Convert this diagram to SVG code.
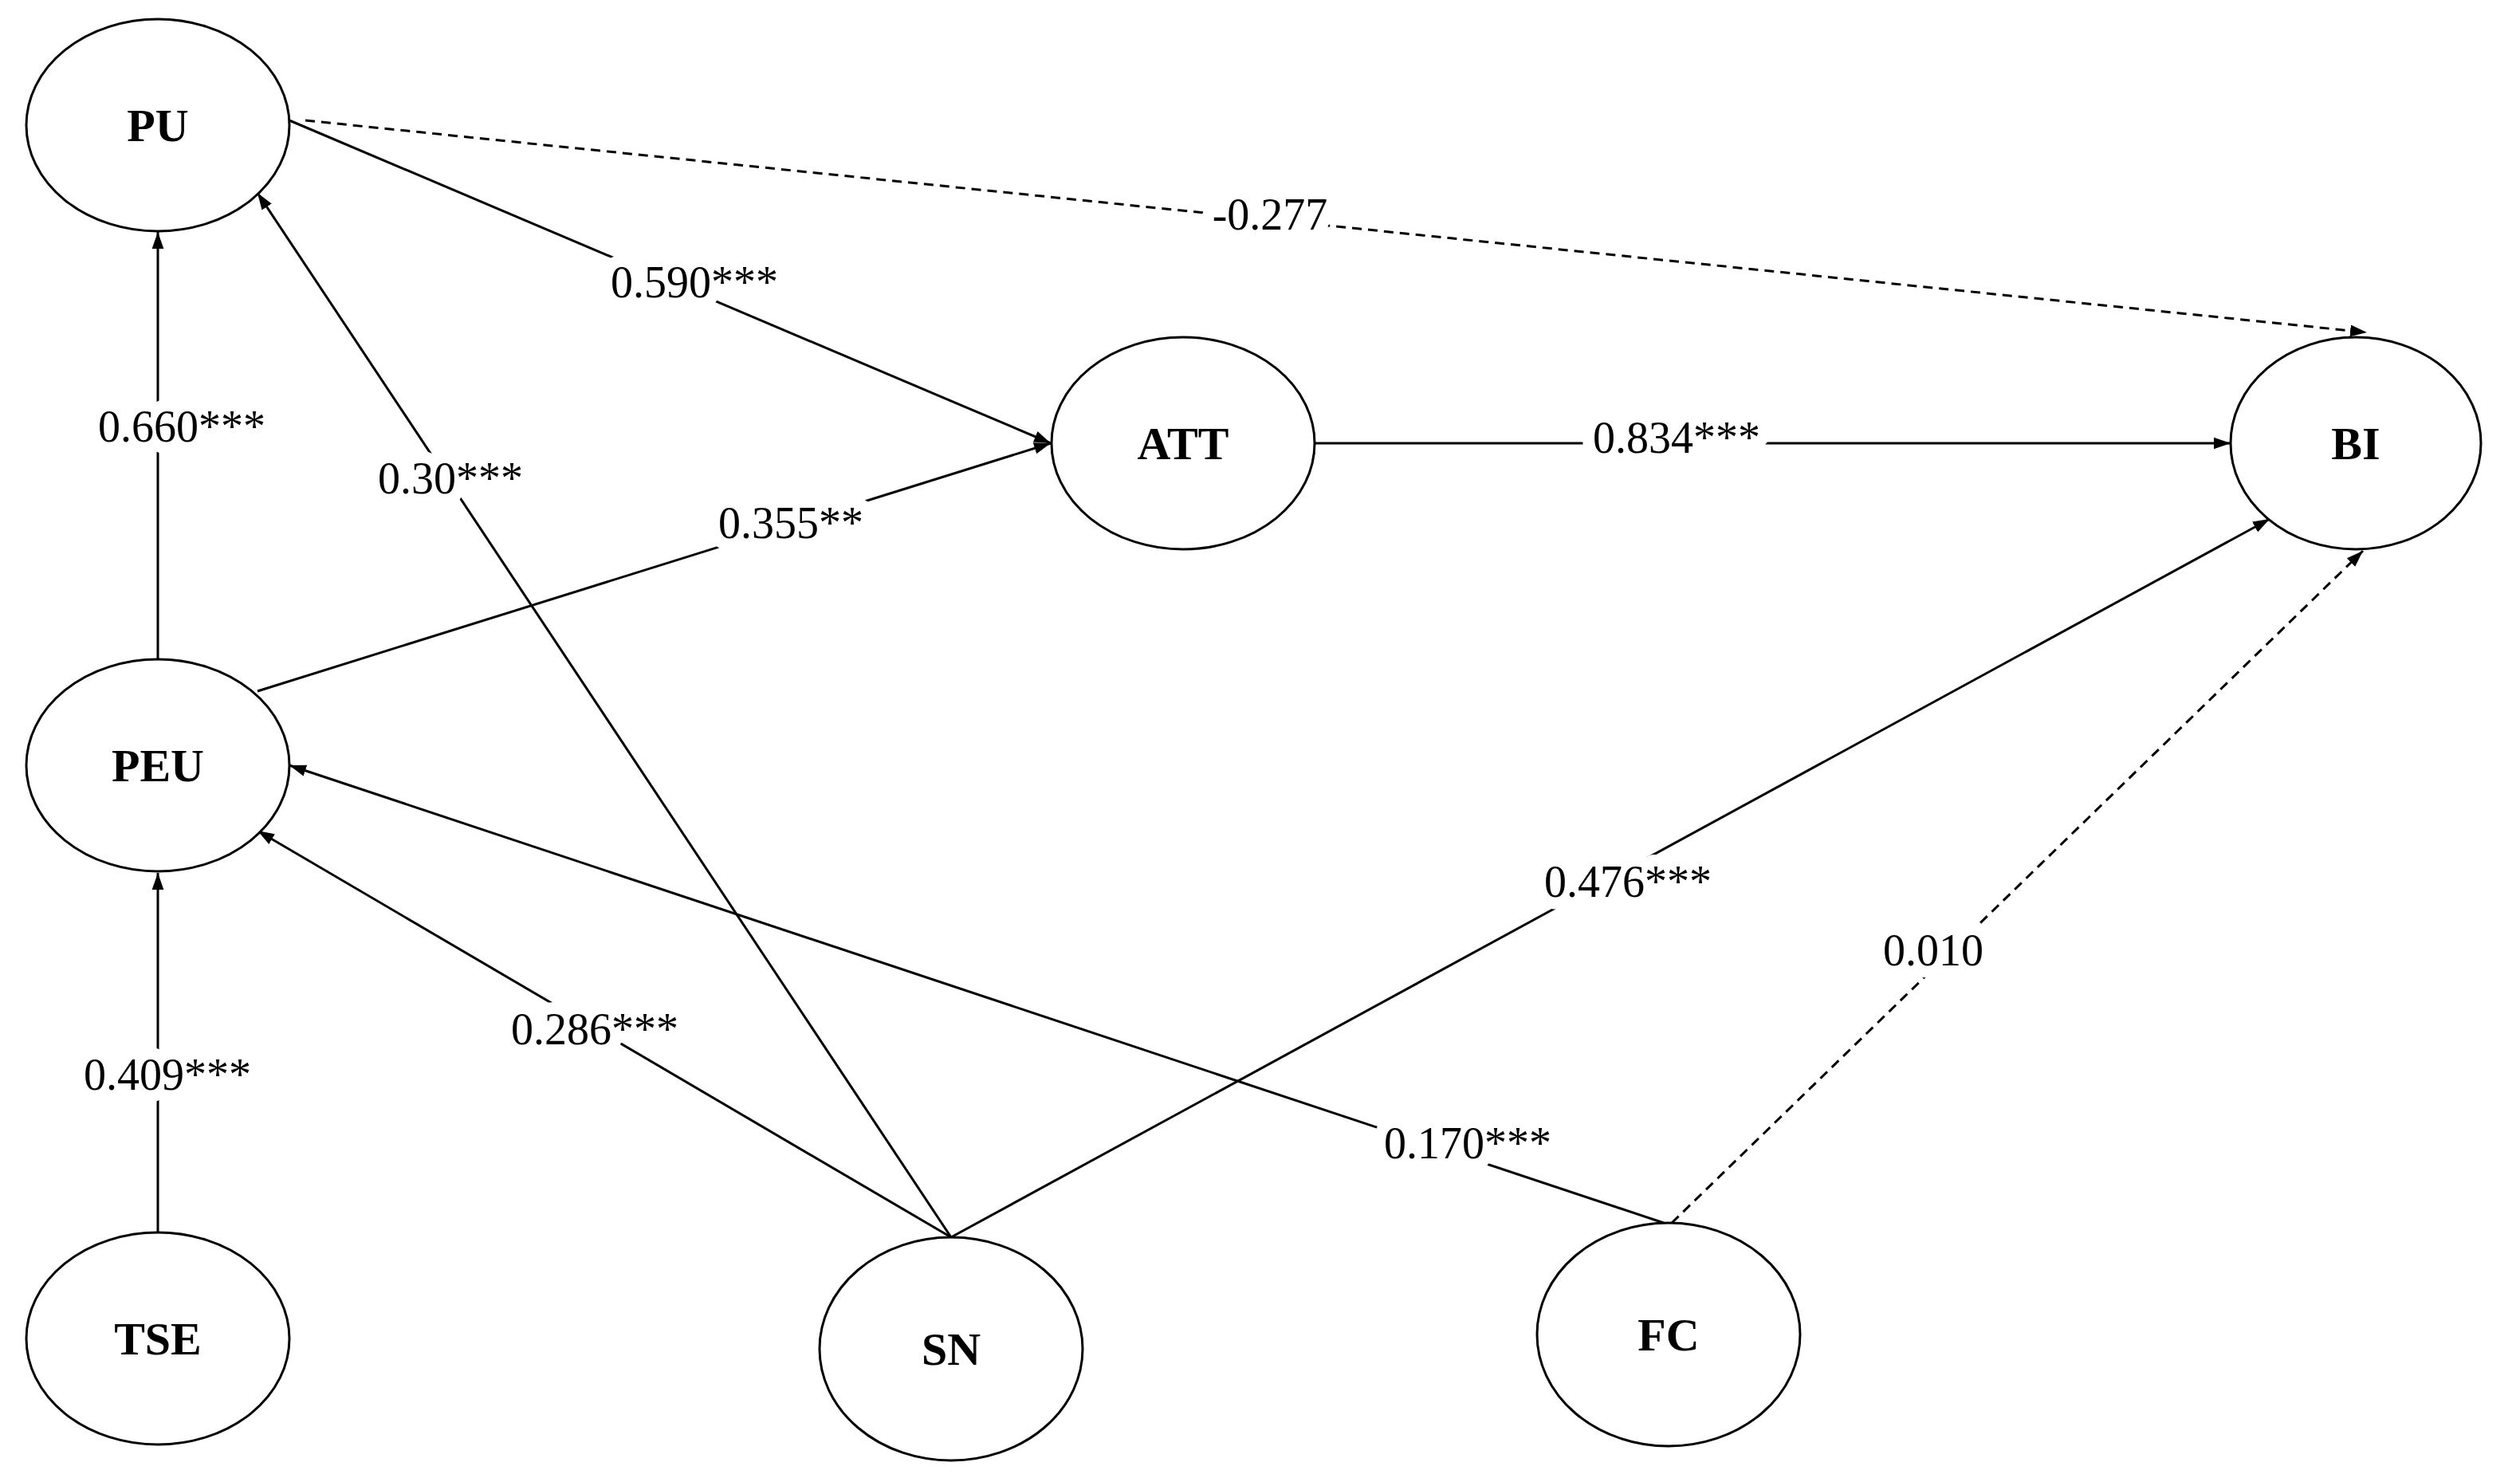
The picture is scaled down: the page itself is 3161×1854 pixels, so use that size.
<svg xmlns="http://www.w3.org/2000/svg" width="3161" height="1854" viewBox="0 0 3161 1854">
<defs>
<style>
.n{fill:#fff;stroke:#000;stroke-width:3}
.nt{font-family:"Liberation Serif",serif;font-weight:bold;font-size:58px;text-anchor:middle}
.e{stroke:#000;stroke-width:3;fill:none;marker-end:url(#a)}
.d{stroke-dasharray:12 8}
.l{font-family:"Liberation Serif",serif;font-size:56px;text-anchor:middle;stroke:#fff;stroke-width:30;paint-order:stroke;stroke-linejoin:round}
</style>
<marker id="a" viewBox="0 0 10 10" refX="10" refY="5" markerWidth="7" markerHeight="7" orient="auto" markerUnits="strokeWidth"><path d="M0,1.5L10,5L0,8.5z"/></marker>
</defs>
<rect width="3161" height="1854" fill="#fff"/>
<g id="connectors">
<line class="e" x1="198" y1="827" x2="198" y2="291"/>
<line class="e" x1="1193" y1="1552" x2="323" y2="242"/>
<line class="e" x1="363" y1="151" x2="1318" y2="556"/>
<line class="e" x1="323" y1="867" x2="1318" y2="556"/>
<line class="e d" x1="383" y1="151" x2="2969" y2="417"/>
<line class="e" x1="1649" y1="556" x2="2798" y2="556"/>
<line class="e" x1="1193" y1="1552" x2="2847" y2="651"/>
<line class="e d" x1="2097" y1="1534" x2="2964" y2="691"/>
<line class="e" x1="2087" y1="1534" x2="363" y2="960"/>
<line class="e" x1="1193" y1="1552" x2="323" y2="1042"/>
<line class="e" x1="198" y1="1546" x2="198" y2="1095"/>
<g id="labels">
<text class="l" x="228" y="554">0.660***</text>
<text class="l" x="565" y="619">0.30***</text>
<text class="l" x="871" y="373">0.590***</text>
<text class="l" x="992" y="675">0.355**</text>
<text class="l" x="1593" y="288">-0.277</text>
<text class="l" x="2103" y="568">0.834***</text>
<text class="l" x="2042" y="1125">0.476***</text>
<text class="l" x="2425" y="1211">0.010</text>
<text class="l" x="1841" y="1453">0.170***</text>
<text class="l" x="746" y="1310">0.286***</text>
<text class="l" x="210" y="1367">0.409***</text>
</g>
</g>
<g id="PU"><ellipse class="n" cx="198" cy="157" rx="165" ry="133"/><text class="nt" x="198" y="177">PU</text></g>
<g id="ATT"><ellipse class="n" cx="1484" cy="556" rx="165" ry="133"/><text class="nt" x="1484" y="576">ATT</text></g>
<g id="BI"><ellipse class="n" cx="2955" cy="556" rx="157" ry="133"/><text class="nt" x="2955" y="576">BI</text></g>
<g id="PEU"><ellipse class="n" cx="198" cy="960" rx="165" ry="133"/><text class="nt" x="198" y="980">PEU</text></g>
<g id="TSE"><ellipse class="n" cx="198" cy="1679" rx="165" ry="133"/><text class="nt" x="198" y="1699">TSE</text></g>
<g id="SN"><ellipse class="n" cx="1193" cy="1692" rx="165" ry="140"/><text class="nt" x="1193" y="1712">SN</text></g>
<g id="FC"><ellipse class="n" cx="2093" cy="1674" rx="165" ry="140"/><text class="nt" x="2093" y="1694">FC</text></g>
</svg>
